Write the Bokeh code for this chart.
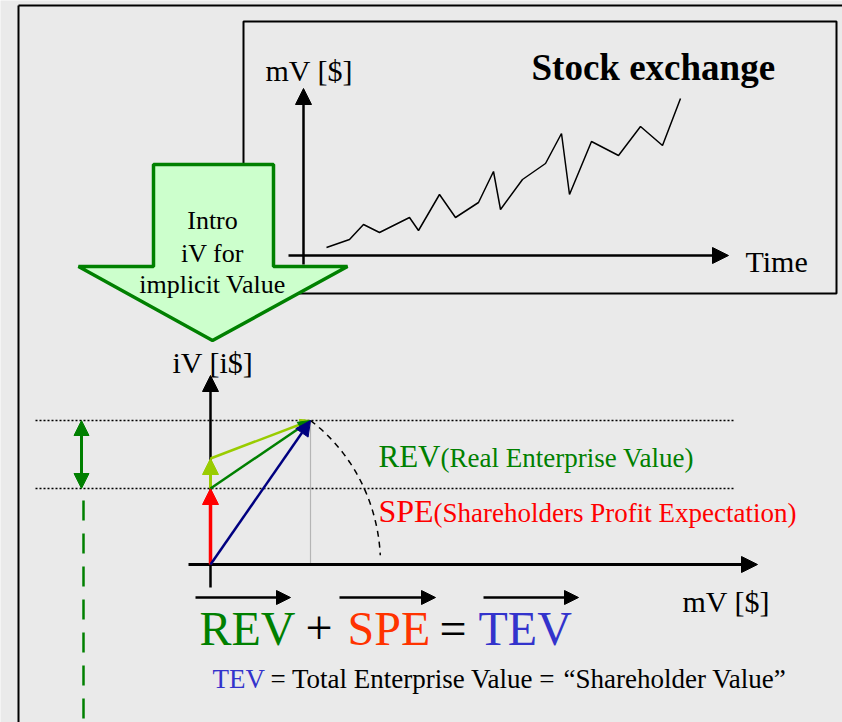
import numpy as np
from bokeh.plotting import figure
from bokeh.models import Range1d, Arrow, NormalHead
from bokeh.core.properties import value
from bokeh.embed import file_html
from bokeh.resources import INLINE

# ---------------- data (diagram coordinates, pixel space of the picture) ----------------
BG = "#EAEAEA"
SERIF = "'Liberation Serif', 'Times New Roman', 'DejaVu Serif', serif"
BASE_SHIFT = 0.32   # baseline correction of the text renderer (fraction of font size)

# stock price path (time, market value) inside the "Stock exchange" panel
stock_t = [326, 349, 363, 379, 409, 418, 439, 455, 478, 493, 500, 522, 545, 561, 569, 591, 618, 640, 662, 680]
stock_v = [247, 239, 224, 232, 217, 230, 194, 217, 202, 171, 209, 179, 163, 133, 194, 141, 155, 126, 145, 98]

# stock panel frame
panel_left, panel_right, panel_top, panel_bottom = 243, 836, 21, 293
# stock axes: origin, x end, y end
st_origin = (303, 255)
st_x_from, st_x_to = 288, 728
st_y_from, st_y_to = 264, 88

# big "Intro" block arrow (shaft + head)
blk_x = [153, 273, 273, 347, 212, 78, 153]
blk_y = [164, 164, 266, 266, 340, 266, 266]
blk_text = ["Intro", "iV for", "implicit Value"]
blk_text_y = [228, 261, 292]

# lower vector diagram (origin + vectors, iV upwards = negative pixel y)
origin = (210, 564)
spe_vec = (0, -76)            # Shareholders Profit Expectation
rev_vec = (100, -68)          # Real Enterprise Value
lg_vec = (0, -30)             # small light-green step
tev_vec = (spe_vec[0] + rev_vec[0], spe_vec[1] + rev_vec[1])
arc_rx = 170                  # horizontal half-axis of dashed arc
arc_end_deg = 3.0

lo_x_from, lo_x_to = 188, 757
lo_y_from, lo_y_to = 587, 375
dot_x_from, dot_x_to = 35, 734
dbl_x = 81
dash_x, dash_y_from, dash_y_to = 83, 500, 740

# ---------------- figure ----------------
W, H = 842, 722
p = figure(width=W, height=H, x_range=Range1d(0, W), y_range=Range1d(H, 0),
           output_backend="svg", toolbar_location=None, min_border=0,
           x_axis_location=None, y_axis_location=None)
p.grid.visible = False
p.outline_line_color = None
p.background_fill_color = BG
p.border_fill_color = BG


def label(x, y, txt, size, color="black", align="left", bold=False):
    ys = [v - BASE_SHIFT * size for v in y]
    p.text(x=x, y=ys, text=txt, text_font=value(SERIF), text_font_size=value(f"{size}px"),
           text_color=color, text_align=align, text_baseline="alphabetic",
           text_font_style="bold" if bold else "normal")


def arrow(x0, y0, x1, y1, color, lw, size, start=False):
    head = NormalHead(size=size, fill_color=color, line_color=color, line_width=1)
    kw = {}
    if start:
        kw["start"] = NormalHead(size=size, fill_color=color, line_color=color, line_width=1)
    p.add_layout(Arrow(x_start=x0, y_start=y0, x_end=x1, y_end=y1, end=head,
                       line_color=color, line_width=lw, **kw))


# outer frame (left and top edge visible)
p.line([18, 18], [5, 740], line_color="black", line_width=2)
p.line([18, 860], [5, 5], line_color="black", line_width=2)

# stock panel
p.quad(left=[panel_left], right=[panel_right], top=[panel_top], bottom=[panel_bottom],
       fill_color=None, line_color="black", line_width=2)

# stock axes
arrow(st_x_from, st_origin[1], st_x_to, st_origin[1], "black", 2.5, 16)
arrow(st_origin[0], st_y_from, st_origin[0], st_y_to, "black", 2.5, 16)
p.line(stock_t, stock_v, line_color="black", line_width=1.5)

# block arrow
p.patch(blk_x, blk_y, fill_color="#CCFFCC", line_color="#008000", line_width=3.5)
label([blk_x[4]] * 3, blk_text_y, blk_text, 26, align="center")

# texts of the stock panel
label([265], [80], ["mV [$]"], 30)
label([745], [271], ["Time"], 30)
label([531], [79], ["Stock exchange"], 37, bold=True)

# ---------------- lower diagram ----------------
ox, oy = origin
spe_tip = (ox + spe_vec[0], oy + spe_vec[1])
tev_tip = (ox + tev_vec[0], oy + tev_vec[1])
lg_tip = (spe_tip[0] + lg_vec[0], spe_tip[1] + lg_vec[1])

# dotted guides
p.line([dot_x_from, dot_x_to], [tev_tip[1]] * 2, line_color="black", line_width=1.6, line_dash="2 2")
p.line([dot_x_from, dot_x_to], [spe_tip[1]] * 2, line_color="black", line_width=1.6, line_dash="2 2")
p.line([tev_tip[0]] * 2, [tev_tip[1], oy], line_color="#808080", line_width=1.2, line_dash="1 1")

# axes
arrow(ox, lo_y_from, ox, lo_y_to, "black", 2.5, 16)
arrow(lo_x_from, oy, lo_x_to, oy, "black", 3, 16)

# dashed arc from TEV tip down to the mV axis
ry = -tev_vec[1] / np.sqrt(1 - (tev_vec[0] / arc_rx) ** 2)
t0 = np.arctan2(-tev_vec[1] / ry, tev_vec[0] / arc_rx)
t = np.linspace(t0, np.radians(arc_end_deg), 60)
p.line(ox + arc_rx * np.cos(t), oy - ry * np.sin(t), line_color="black", line_width=1.5, line_dash="6 5")

# vectors
arrow(ox, oy, spe_tip[0], spe_tip[1], "#FF0000", 3.5, 16)
arrow(spe_tip[0], spe_tip[1], lg_tip[0], lg_tip[1], "#99CC00", 3, 16)
arrow(lg_tip[0], lg_tip[1], tev_tip[0], tev_tip[1], "#99CC00", 2.5, 10)
arrow(spe_tip[0], spe_tip[1], tev_tip[0], tev_tip[1], "#008000", 2.5, 12)
arrow(ox, oy, tev_tip[0], tev_tip[1], "#000080", 2.5, 15)

# green double arrow and dashed line
arrow(dbl_x, spe_tip[1], dbl_x, tev_tip[1], "#008000", 3, 15, start=True)
p.line([dash_x, dash_x], [dash_y_from, dash_y_to], line_color="#008000", line_width=2.5, line_dash="20 13")

# labels
label([172], [372], ["iV [i$]"], 30)
label([682], [611], ["mV [$]"], 30)
label([378], [466], ["REV"], 31, color="#008000")
label([440], [466], ["(Real Enterprise Value)"], 27, color="#008000")
label([378], [521], ["SPE"], 32, color="#FF0000")
label([433], [521], ["(Shareholders Profit Expectation)"], 27, color="#FF0000")

# vector equation
eq_text = ["REV", "+", "SPE", "=", "TEV"]
eq_x = [199, 305, 347, 439, 478]
eq_col = ["#008000", "black", "#FF3300", "black", "#3333CC"]
label(eq_x, [643] * 5, eq_text, 48, color=eq_col)
bar_from = [195, 339, 483]
bar_to = [290, 435, 578]
for a, b in zip(bar_from, bar_to):
    arrow(a, 597, b, 597, "black", 2.5, 14)

# caption
cap_text = ["TEV", "= Total Enterprise Value =", "\u201cShareholder Value\u201d"]
cap_x = [212, 270, 563]
cap_col = ["#3333CC", "black", "black"]
label(cap_x, [687] * 3, cap_text, 27, color=cap_col)

open("out.html", "w").write(file_html(p, INLINE))
